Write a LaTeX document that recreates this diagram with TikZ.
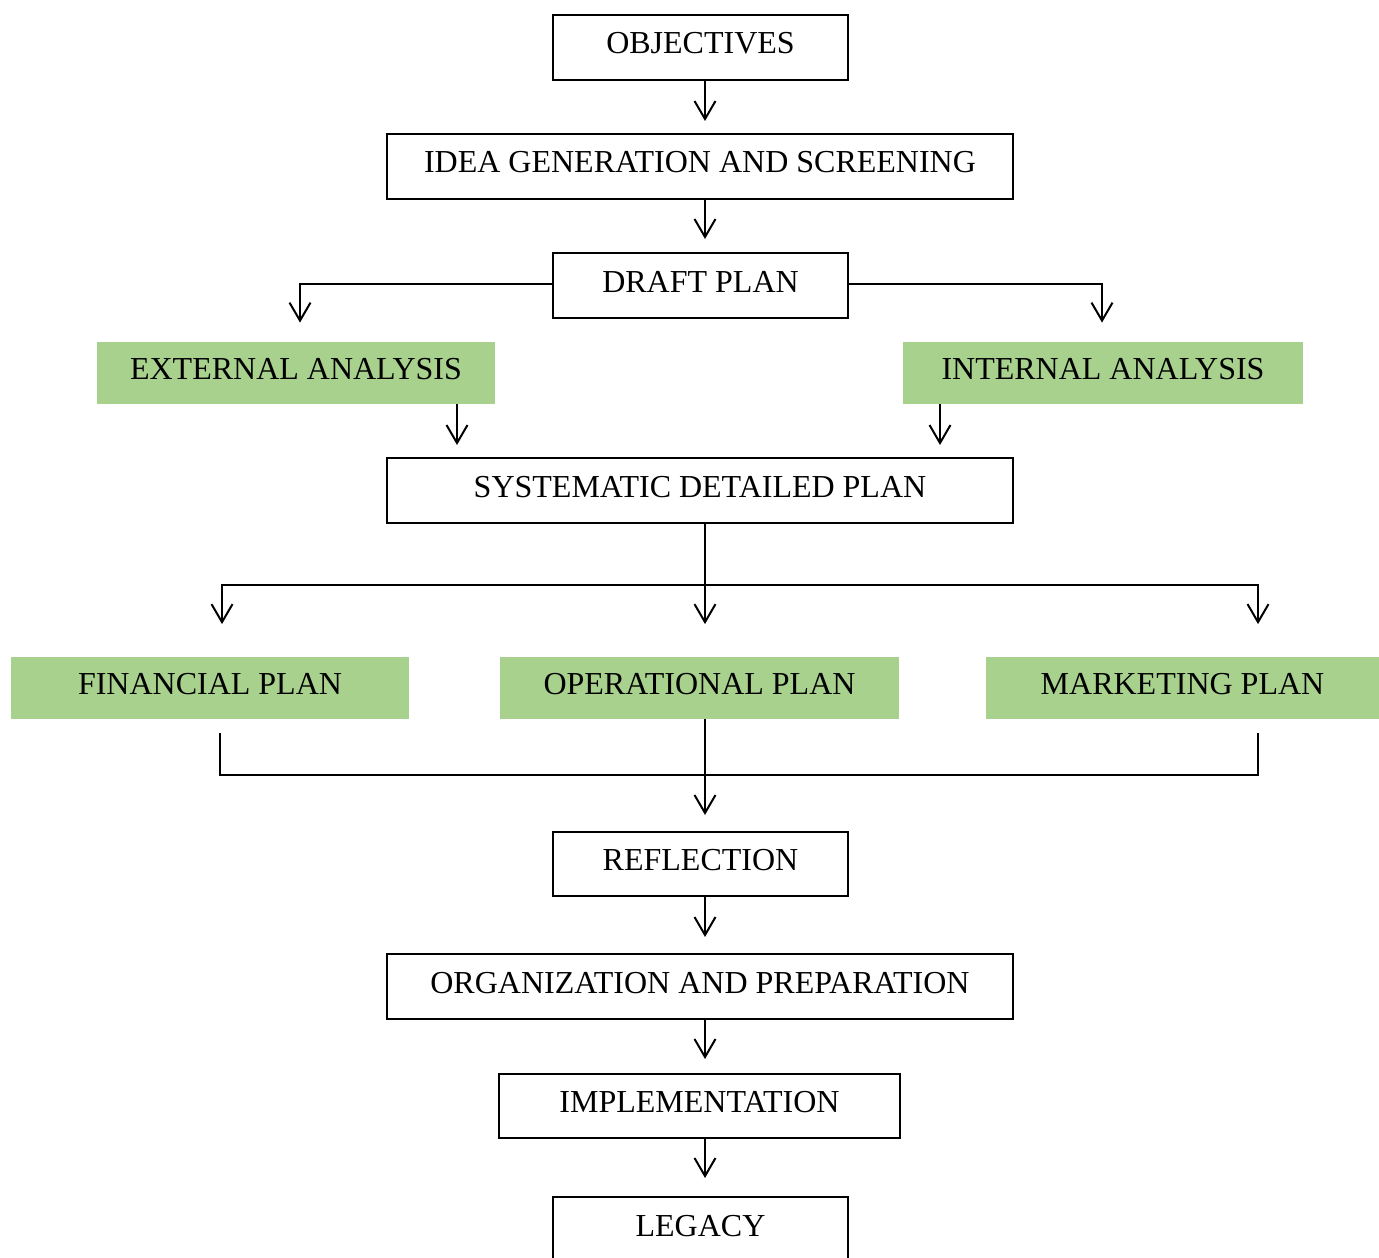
\documentclass[tikz,border=0pt]{standalone}
\usepackage{fontspec}
\setmainfont{Liberation Serif}
\usetikzlibrary{arrows.meta,calc}
\definecolor{planGreen}{HTML}{A9D18E}
\begin{document}
\begin{tikzpicture}[x=0.5pt,y=-0.5pt,
  label text/.style={font=\fontsize{16pt}{19pt}\selectfont, text height=11pt, text depth=4.5pt, inner sep=0pt, align=center},
  stagebox/.style={label text, draw, line width=1pt, minimum height=32.5pt},
  greenbox/.style={label text, fill=planGreen, minimum height=31pt},
  link/.style={line width=1pt},
  arr/.style={link, -{Straight Barb[length=9pt,width=10.5pt]}}]
\useasboundingbox (0,0) rectangle (1379,1257);
\clip (0,0) rectangle (1379,1257);

% main column of stages
\node[stagebox, minimum width=147.5pt] (obj)   at (700.5,47.5)  {OBJECTIVES};
\node[stagebox, minimum width=313pt]   (idea)  at (700,166.5)   {IDEA GENERATION AND SCREENING};
\node[stagebox, minimum width=147.5pt] (draft) at (700.5,285.5) {DRAFT PLAN};
\node[greenbox, minimum width=199pt]   (ext)   at (296,373)     {EXTERNAL ANALYSIS};
\node[greenbox, minimum width=200pt]   (int)   at (1103,373)    {INTERNAL ANALYSIS};
\node[stagebox, minimum width=313pt]   (sys)   at (700,490.5)   {SYSTEMATIC DETAILED PLAN};
\node[greenbox, minimum width=199pt]   (fin)   at (210,687.5)   {FINANCIAL PLAN};
\node[greenbox, minimum width=199.5pt] (oper)  at (699.5,687.5) {OPERATIONAL PLAN};
\node[greenbox, minimum width=196.5pt] (mkt)   at (1182.5,687.5){MARKETING PLAN};
\node[stagebox, minimum width=147.5pt, minimum height=32pt] (refl) at (700.5,864) {REFLECTION};
\node[stagebox, minimum width=313pt]   (org)   at (700,986.5)   {ORGANIZATION AND PREPARATION};
\node[stagebox, minimum width=200.5pt, minimum height=32pt] (impl) at (699.5,1106) {IMPLEMENTATION};
\node[stagebox, minimum width=147.5pt] (legacy) at (700.5,1229.5) {LEGACY};

% connector columns and rows
\coordinate (spine) at (705,0);
\coordinate (branchRow) at (0,284);
\coordinate (extCol) at (300,0);
\coordinate (intCol) at (1102,0);
\coordinate (extOut) at (457,0);
\coordinate (intOut) at (940,0);
\coordinate (finIn) at (222,0);
\coordinate (mktIn) at (1258,0);
\coordinate (finOut) at (220,0);
\coordinate (split) at (705,585);
\coordinate (merge) at (705,775);

% connectors
\draw[arr, shorten >=6pt]   (obj.south -| spine) -- (idea.north -| spine);
\draw[arr, shorten >=6.5pt] (idea.south -| spine) -- (draft.north -| spine);
\draw[arr, shorten >=9.5pt] (draft.west |- branchRow) -| (ext.north -| extCol);
\draw[arr, shorten >=9.5pt] (draft.east |- branchRow) -| (int.north -| intCol);
\draw[arr, shorten >=6pt]   (ext.south -| extOut) -- (sys.north -| extOut);
\draw[arr, shorten >=6pt]   (int.south -| intOut) -- (sys.north -| intOut);
\draw[arr, shorten >=16pt]  (sys.south -| spine) -- (oper.north -| spine);
\draw[arr, shorten >=16pt]  (split) -| (fin.north -| finIn);
\draw[arr, shorten >=16pt]  (split) -| (mkt.north -| mktIn);
\draw[link] ($(fin.south -| finOut)+(0,14)$) |- (merge) -| ($(mkt.south -| mktIn)+(0,14)$);
\draw[arr, shorten >=8pt]   (oper.south -| spine) -- (refl.north -| spine);
\draw[arr, shorten >=8pt]   (refl.south -| spine) -- (org.north -| spine);
\draw[arr, shorten >=7pt]   (org.south -| spine) -- (impl.north -| spine);
\draw[arr, shorten >=9pt]   (impl.south -| spine) -- (legacy.north -| spine);
\end{tikzpicture}
\end{document}
